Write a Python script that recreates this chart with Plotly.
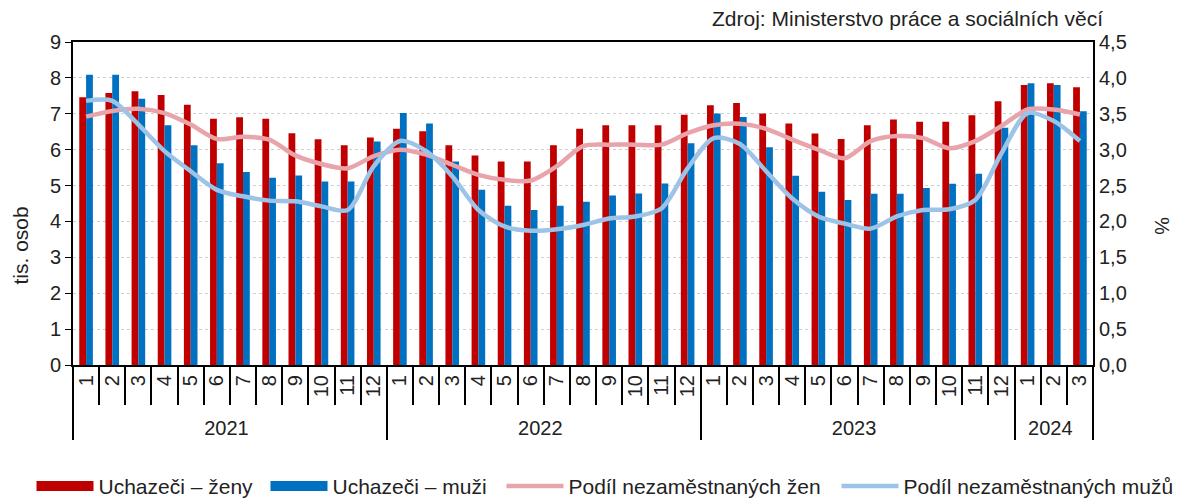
import plotly.graph_objects as go

years = ["2021"] * 12 + ["2022"] * 12 + ["2023"] * 12 + ["2024"] * 3
months = ["1", "2", "3", "4", "5", "6", "7", "8", "9", "10", "11", "12",
          "1", "2", "3", "4", "5", "6", "7", "8", "9", "10", "11", "12",
          "1", "2", "3", "4", "5", "6", "7", "8", "9", "10", "11", "12",
          "1", "2", "3"]

uchazeci_zeny = [7.46, 7.58, 7.63, 7.52, 7.25, 6.86, 6.90, 6.86, 6.46, 6.29, 6.12, 6.34,
                 6.58, 6.51, 6.12, 5.84, 5.67, 5.67, 6.12, 6.58, 6.68, 6.68, 6.68, 6.97,
                 7.24, 7.30, 7.01, 6.73, 6.45, 6.30, 6.68, 6.84, 6.78, 6.78, 6.96, 7.35,
                 7.80, 7.85, 7.74]
uchazeci_muzi = [8.09, 8.09, 7.42, 6.68, 6.12, 5.62, 5.38, 5.22, 5.28, 5.11, 5.11, 6.23,
                 7.02, 6.73, 5.67, 4.88, 4.44, 4.32, 4.44, 4.55, 4.72, 4.78, 5.06, 6.18,
                 7.01, 6.91, 6.07, 5.27, 4.83, 4.60, 4.77, 4.77, 4.93, 5.05, 5.33, 6.61,
                 7.85, 7.80, 7.07]
podil_zen = [3.46, 3.54, 3.57, 3.51, 3.35, 3.15, 3.18, 3.14, 2.92, 2.80, 2.74, 2.91,
             3.00, 2.93, 2.79, 2.65, 2.58, 2.57, 2.77, 3.05, 3.07, 3.07, 3.07, 3.23,
             3.34, 3.36, 3.29, 3.14, 3.00, 2.88, 3.12, 3.19, 3.16, 3.02, 3.12, 3.33,
             3.56, 3.56, 3.49]
podil_muzu = [3.68, 3.68, 3.35, 2.98, 2.70, 2.44, 2.35, 2.29, 2.28, 2.21, 2.16, 2.77,
              3.12, 2.98, 2.63, 2.16, 1.93, 1.87, 1.89, 1.95, 2.04, 2.07, 2.18, 2.74,
              3.16, 3.08, 2.70, 2.32, 2.07, 1.97, 1.90, 2.07, 2.16, 2.17, 2.30, 2.95,
              3.51, 3.40, 3.12]

left_ticks = [0, 1, 2, 3, 4, 5, 6, 7, 8, 9]
right_ticks = [0.0, 0.5, 1.0, 1.5, 2.0, 2.5, 3.0, 3.5, 4.0, 4.5]

FONT = "Liberation Sans, Arial, sans-serif"
TXT = "#222222"
RED, BLUE, PINK, LBLUE = "#C00000", "#0070C0", "#E8A3AB", "#9DC3E6"
x = [years, months]

fig = go.Figure()
fig.add_trace(go.Bar(x=x, y=uchazeci_zeny, name="Uchazeči – ženy", showlegend=False,
                     marker=dict(color=RED, line=dict(width=0))))
fig.add_trace(go.Bar(x=x, y=uchazeci_muzi, name="Uchazeči – muži", showlegend=False,
                     marker=dict(color=BLUE, line=dict(width=0))))
# legend-only entries giving the wide rectangular swatches of the bar series
fig.add_trace(go.Scatter(x=[[years[0]], [months[0]]], y=[None], name="Uchazeči – ženy",
                         mode="lines", line=dict(color=RED, width=13), hoverinfo="skip",
                         legend="legend", legendwidth=162))
fig.add_trace(go.Scatter(x=[[years[0]], [months[0]]], y=[None], name="Uchazeči – muži",
                         mode="lines", line=dict(color=BLUE, width=13), hoverinfo="skip",
                         legend="legend"))
fig.add_trace(go.Scatter(x=x, y=podil_zen, name="Podíl nezaměstnaných žen", yaxis="y2",
                         mode="lines", line=dict(color=PINK, width=4.5, shape="spline", smoothing=0.8),
                         legend="legend2", legendwidth=263))
fig.add_trace(go.Scatter(x=x, y=podil_muzu, name="Podíl nezaměstnaných mužů", yaxis="y2",
                         mode="lines", line=dict(color=LBLUE, width=4.5, shape="spline", smoothing=0.8),
                         legend="legend2"))

legend_common = dict(orientation="h", yanchor="top", y=-0.312, xanchor="left",
                     font=dict(size=21, color=TXT), itemwidth=57, tracegroupgap=0,
                     traceorder="normal", bgcolor="rgba(0,0,0,0)")

# the page adds an 8 px body margin, so the figure is 8 px smaller and shifted
fig.update_layout(
    width=1174, height=492,
    margin=dict(l=65, r=89, t=34, b=135, autoexpand=False),
    paper_bgcolor="white", plot_bgcolor="white",
    font=dict(family=FONT, size=20, color=TXT),
    separators=", ",
    barmode="group", bargap=0.48, bargroupgap=0,
    showlegend=True,
    legend=dict(x=-0.0407, **legend_common),
    legend2=dict(x=0.4201, **legend_common),
    xaxis=dict(type="multicategory", automargin=False, showline=True, linecolor="black", linewidth=2,
               mirror=True, ticks="outside", ticklen=38, tickcolor="black", tickwidth=2,
               tickangle=-90, tickfont=dict(size=20, color=TXT),
               showdividers=True, dividercolor="black", dividerwidth=2,
               showgrid=False),
    yaxis=dict(range=[0, 9], tickvals=left_ticks, automargin=False, showline=True, linecolor="black",
               linewidth=2, ticks="outside", ticklen=6, tickcolor="black",
               showgrid=True, gridcolor="#CFCFCF", griddash="dot", gridwidth=1,
               zeroline=False, tickfont=dict(size=20, color=TXT)),
    yaxis2=dict(range=[0, 4.5], tickvals=right_ticks, tickformat=".1f", overlaying="y",
                automargin=False, side="right", showline=True, linecolor="black", linewidth=2,
                showgrid=False, zeroline=False, ticks="", tickfont=dict(size=20, color=TXT)),
    annotations=[
        dict(text="Zdroj: Ministerstvo práce a sociálních věcí", xref="paper", yref="paper",
             x=1.0118, y=1.074, xanchor="right", yanchor="middle", showarrow=False,
             font=dict(size=21, color=TXT)),
        dict(text="tis. osob", xref="paper", yref="paper", x=0, xshift=-53, y=0.37,
             xanchor="center", yanchor="middle",
             textangle=-90, showarrow=False, font=dict(size=21, color=TXT)),
        dict(text="%", xref="paper", yref="paper", x=1, xshift=69, y=0.43,
             xanchor="center", yanchor="middle",
             textangle=90, showarrow=False, font=dict(size=20, color=TXT)),
    ],
)

fig.write_html("out.html")
